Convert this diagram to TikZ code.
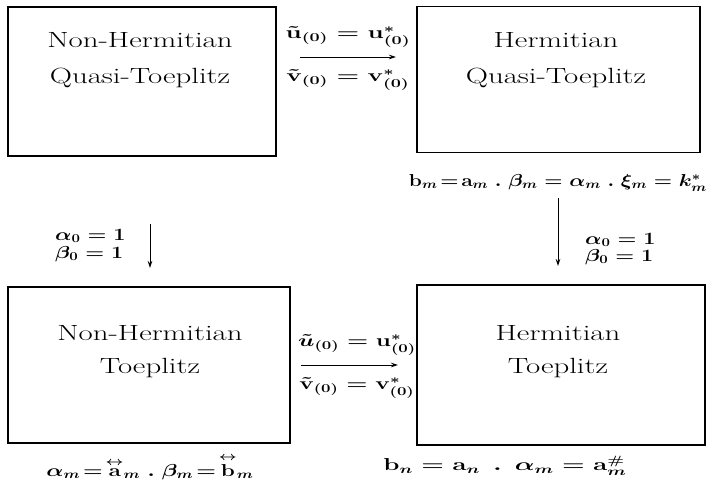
\documentclass[tikz,border=0pt]{standalone}
\usepackage{amsmath,amssymb,bm}
\usetikzlibrary{arrows.meta}
\newcommand{\wide}[2][1.35]{\scalebox{#1}[1]{#2}}
\newcommand{\lrar}[1]{\overset{\scriptstyle\leftrightarrow}{#1}}
\tikzset{
  box/.style={draw, line width=1.3pt, rectangle, inner sep=0pt},
  ttl/.style={font=\fontsize{22}{26}\selectfont, inner sep=0pt},
  lbl/.style={font=\fontsize{17}{20}\selectfont\boldmath, inner sep=0pt},
  arr/.style={-{Stealth[length=7pt,width=4.5pt]}, line width=0.8pt}
}
\begin{document}
\begin{tikzpicture}[x=1pt,y=-1pt]
\useasboundingbox (0,0) rectangle (723,487);
% boxes
\node[box, minimum width=268pt, minimum height=149pt] (tl) at (142,81.5) {};
\node[box, minimum width=283pt, minimum height=146pt] (tr) at (558.5,79.5) {};
\node[box, minimum width=282pt, minimum height=156pt] (bl) at (149,365) {};
\node[box, minimum width=288pt, minimum height=160pt] (br) at (561,365) {};
% titles
\node[ttl] (tl1) at (140,40) {\wide[1.4]{Non-Hermitian}};
\node[ttl] (tl2) at (140,78) {\wide[1.4]{Quasi-Toeplitz}};
\node[ttl] (tr1) at (556,40) {\wide[1.4]{Hermitian}};
\node[ttl] (tr2) at (556,78) {\wide[1.4]{Quasi-Toeplitz}};
\node[ttl] (bl1) at (150,333) {\wide[1.4]{Non-Hermitian}};
\node[ttl] (bl2) at (150,368) {\wide[1.4]{Toeplitz}};
\node[ttl] (br1) at (558,333) {\wide[1.4]{Hermitian}};
\node[ttl] (br2) at (558,368) {\wide[1.4]{Toeplitz}};
% top horizontal
\node[lbl] (tu) at (348,37) {\wide[1.5]{$\tilde{\mathbf{u}}_{(0)}=\mathbf{u}^{*}_{(0)}$}};
\node[lbl] (tv) at (348,80) {\wide[1.5]{$\tilde{\mathbf{v}}_{(0)}=\mathbf{v}^{*}_{(0)}$}};
\coordinate (ta) at (300,57);
\coordinate (tb) at (396,57);
\draw[arr] (ta) -- (tb);
% bottom horizontal
\node[lbl] (bu) at (357,345) {\wide[1.4]{$\tilde{u}_{(0)}=\mathbf{u}^{*}_{(0)}$}};
\node[lbl] (bv) at (357,388) {\wide[1.4]{$\tilde{\mathbf{v}}_{(0)}=\mathbf{v}^{*}_{(0)}$}};
\coordinate (ba) at (301,365);
\coordinate (bb) at (398,365);
\draw[arr] (ba) -- (bb);
% label under top right
\node[lbl] (trl) at (558,183) {\wide[1.21]{$\mathbf{b}_m\!=\!\mathbf{a}_m\;.\;\beta_m=\alpha_m\;.\;\xi_m=k^{*}_m$}};
% left vertical
\node[lbl, anchor=west] (la) at (55,236) {\wide[1.25]{$\alpha_0=1$}};
\node[lbl, anchor=west] (lb) at (55,254) {\wide[1.25]{$\beta_0=1$}};
\coordinate (lva) at (150,224);
\coordinate (lvb) at (150,268);
\draw[arr] (lva) -- (lvb);
% right vertical
\node[lbl, anchor=west] (ra) at (585,240) {\wide[1.25]{$\alpha_0=1$}};
\node[lbl, anchor=west] (rb) at (585,257) {\wide[1.25]{$\beta_0=1$}};
\coordinate (rva) at (558,198);
\coordinate (rvb) at (558,266);
\draw[arr] (rva) -- (rvb);
% bottom labels
\node[lbl] (bll) at (150,467) {\wide[1.3]{$\alpha_m\!=\!\lrar{\mathbf{a}}_m\;.\;\beta_m\!=\!\lrar{\mathbf{b}}_m$}};
\node[lbl] (brl) at (505,466) {\wide[1.5]{$\mathbf{b}_n=\mathbf{a}_n\;\,.\;\,\alpha_m=\mathbf{a}^{\#}_m$}};
\end{tikzpicture}
\end{document}
